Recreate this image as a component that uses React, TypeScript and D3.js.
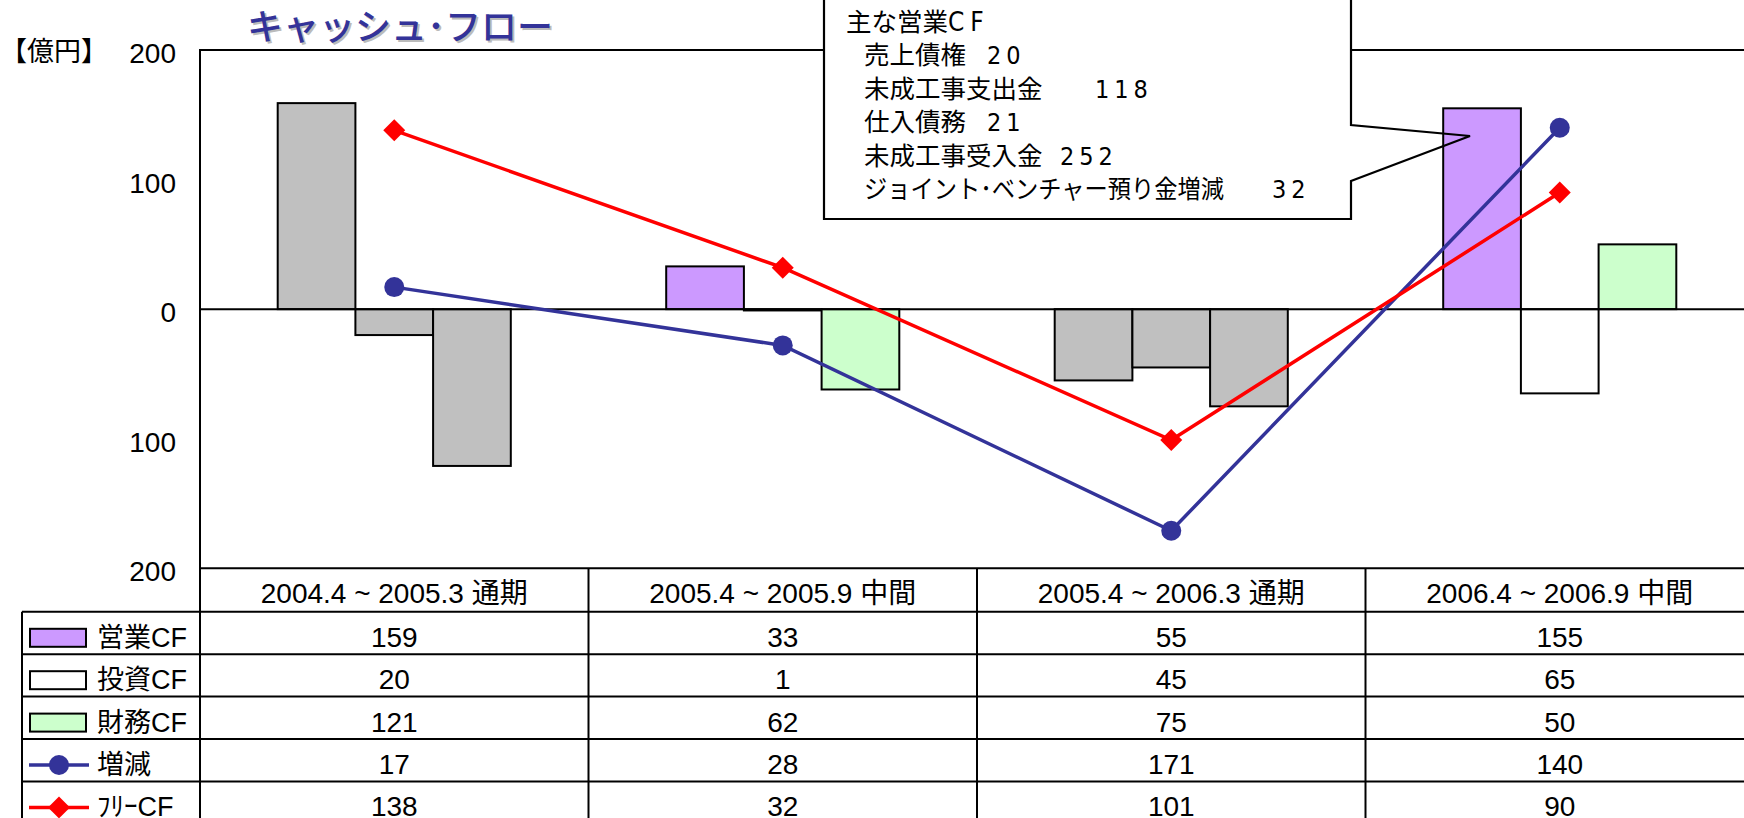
import React from "react";
import * as d3 from "d3";

// ---- data ----
const categories = [
  "2004.4 ~ 2005.3 通期",
  "2005.4 ~ 2005.9 中間",
  "2005.4 ~ 2006.3 通期",
  "2006.4 ~ 2006.9 中間",
];
const barSeries = ["営業CF", "投資CF", "財務CF"];
const operatingCF = [159, 33, -55, 155];
const investingCF = [-20, -1, -45, -65];
const financingCF = [-121, -62, -75, 50];
const netChange = [17, -28, -171, 140];
const freeCF = [138, 32, -101, 90];
const yTicks = [200, 100, 0, -100, -200];
const grayCategoryIndex = [0, 2];

const calloutTitle = "主な営業";
const calloutTitleSuffix = "CF";
const calloutLabels = [
  "売上債権",
  "未成工事支出金",
  "仕入債務",
  "未成工事受入金",
  "ジョイント･ベンチャー預り金増減",
];
const calloutValues = ["20", "118", "21", "252", "32"];

// ---- layout / style ----
const W = 1744;
const H = 818;
const plotLeft = 200;
const catW = 388.5;
const plotTop = 50;
const plotBottom = 568.3;
const legendLeft = 22;
const headerH = 43.5;
const rowH = 42.4;
const FONT = "'Liberation Sans', Arial, 'Noto Sans CJK JP', sans-serif";
const CJK = "'Noto Sans CJK JP', sans-serif";
const NARROW = "'Liberation Sans Narrow', 'DejaVu Sans Condensed', 'Liberation Sans', sans-serif";
const barColors = ["#CC99FF", "#FFFFFF", "#CCFFCC"];
const GRAY = "#C0C0C0";
const BLUE = "#333399";
const RED = "#FF0000";
const calloutValueX = [987, 1095, 987, 1060, 1272];

export default function App() {
  const x = d3
    .scaleBand<string>()
    .domain(categories)
    .range([plotLeft, plotLeft + categories.length * catW])
    .padding(0);
  const xs = d3
    .scaleBand<string>()
    .domain(barSeries)
    .range([0, x.bandwidth()])
    .paddingInner(0)
    .paddingOuter(1);
  const y = d3.scaleLinear().domain([-200, 200]).range([plotBottom, plotTop]);
  const plotRight = plotLeft + categories.length * catW;

  const seriesValues = [operatingCF, investingCF, financingCF];
  const cx = (i: number) => (x(categories[i]) as number) + x.bandwidth() / 2;
  const line = d3
    .line<number>()
    .x((_, i) => cx(i))
    .y((d) => y(d));

  const tableRows = [
    { name: "営業CF", values: operatingCF, kind: "bar", color: barColors[0] },
    { name: "投資CF", values: investingCF, kind: "bar", color: barColors[1] },
    { name: "財務CF", values: financingCF, kind: "bar", color: barColors[2] },
    { name: "増減", values: netChange, kind: "circle", color: BLUE },
    { name: "ﾌﾘｰCF", values: freeCF, kind: "diamond", color: RED },
  ];
  const rowTop = (r: number) => plotBottom + headerH + r * rowH;

  const diamond = (px: number, py: number, s: number) =>
    `M${px},${py - s}L${px + s},${py}L${px},${py + s}L${px - s},${py}Z`;

  const cy0 = 22; // first callout text line center
  const lineGap = 33.4;

  return (
    <div style={{ position: "absolute", left: 0, top: 0 }}>
      <svg width={W} height={H} style={{ display: "block", background: "#fff" }}>
        {/* title */}
        <text x={249} y={42} fontFamily={CJK} fontSize={36} fontWeight={500} fill="#BBBBBB">
          キャッシュ･フロー
        </text>
        <text x={247} y={40} fontFamily={CJK} fontSize={36} fontWeight={500} fill={BLUE}>
          キャッシュ･フロー
        </text>
        <text x={0} y={61} fontFamily={CJK} fontSize={27} fill="#000">
          【億円】
        </text>

        {/* y axis labels */}
        {yTicks.map((t) => (
          <text
            key={t}
            x={176}
            y={y(t) + 13}
            textAnchor="end"
            fontFamily={FONT}
            fontSize={28}
            fill="#000"
          >
            {Math.abs(t)}
          </text>
        ))}

        {/* bars */}
        {categories.map((c, i) =>
          barSeries.map((s, k) => {
            const v = seriesValues[k][i];
            const gray = grayCategoryIndex.includes(i);
            return (
              <rect
                key={c + s}
                x={(x(c) as number) + (xs(s) as number)}
                y={y(Math.max(0, v))}
                width={xs.bandwidth()}
                height={Math.abs(y(v) - y(0))}
                fill={gray ? GRAY : barColors[k]}
                stroke="#000"
                strokeWidth={2}
              />
            );
          })
        )}

        {/* zero line */}
        <line x1={plotLeft} x2={plotRight} y1={y(0)} y2={y(0)} stroke="#000" strokeWidth={2} />

        {/* plot frame */}
        <path
          d={`M${plotRight},${plotTop}H${plotLeft}V${plotBottom}H${plotRight}`}
          fill="none"
          stroke="#000"
          strokeWidth={2}
        />

        {/* lines */}
        <path d={line(netChange) || ""} fill="none" stroke={BLUE} strokeWidth={3.5} />
        {netChange.map((v, i) => (
          <circle key={"n" + i} cx={cx(i)} cy={y(v)} r={10} fill={BLUE} />
        ))}
        <path d={line(freeCF) || ""} fill="none" stroke={RED} strokeWidth={3.5} />
        {freeCF.map((v, i) => (
          <path key={"f" + i} d={diamond(cx(i), y(v), 11)} fill={RED} />
        ))}

        {/* callout */}
        <rect x={824} y={-10} width={527} height={229} fill="#fff" />
        <path
          d="M824,-10V219H1351V181L1470,136L1351,125V-10"
          fill="none"
          stroke="#000"
          strokeWidth={2.2}
        />
        <text x={846} y={cy0 + 9} fontFamily={CJK} fontSize={25.5} fill="#000">
          {calloutTitle}
          <tspan fontFamily={NARROW} fontSize={26} letterSpacing={6}>
            {calloutTitleSuffix}
          </tspan>
        </text>
        {calloutLabels.map((l, i) => (
          <g key={l}>
            <text
              x={864}
              y={cy0 + (i + 1) * lineGap + 9}
              fontFamily={CJK}
              fontSize={25.5}
              fill="#000"
              {...(i === 4 ? { textLength: 360, lengthAdjust: "spacingAndGlyphs" } : {})}
            >
              {l}
            </text>
            <text
              x={calloutValueX[i]}
              y={cy0 + (i + 1) * lineGap + 9}
              fontFamily={NARROW}
              fontSize={25}
              letterSpacing={5}
              fill="#000"
            >
              {calloutValues[i]}
            </text>
          </g>
        ))}

        {/* table */}
        {categories.map((c) => (
          <text
            key={"h" + c}
            x={(x(c) as number) + x.bandwidth() / 2}
            y={plotBottom + 35}
            textAnchor="middle"
            fontFamily={FONT}
            fontSize={28}
            fill="#000"
          >
            {c}
          </text>
        ))}
        {tableRows.map((row, r) => {
          const top = rowTop(r);
          const my = top + 26;
          return (
            <g key={row.name}>
              {row.kind === "bar" && (
                <rect x={30} y={my - 9} width={56} height={18} fill={row.color} stroke="#000" strokeWidth={2} />
              )}
              {row.kind !== "bar" && (
                <line x1={29} x2={89} y1={my} y2={my} stroke={row.color} strokeWidth={3.5} />
              )}
              {row.kind === "circle" && <circle cx={59} cy={my} r={10} fill={row.color} />}
              {row.kind === "diamond" && <path d={diamond(59, my, 11)} fill={row.color} />}
              <text x={97} y={top + 35} fontFamily={FONT} fontSize={27} fill="#000">
                {row.name}
              </text>
              {row.values.map((v, i) => (
                <text
                  key={i}
                  x={cx(i)}
                  y={top + 35}
                  textAnchor="middle"
                  fontFamily={FONT}
                  fontSize={28}
                  fill="#000"
                >
                  {Math.abs(v)}
                </text>
              ))}
            </g>
          );
        })}
        {/* table grid */}
        <g stroke="#000" strokeWidth={2}>
          {categories.map((c) => (
            <line key={"v" + c} x1={x(c) as number} x2={x(c) as number} y1={plotBottom} y2={H + 5} />
          ))}
          <line x1={plotRight} x2={plotRight} y1={plotBottom} y2={H + 5} />
          <line x1={legendLeft} x2={legendLeft} y1={rowTop(0)} y2={H + 5} />
          {tableRows.map((row, r) => (
            <line key={"hl" + r} x1={legendLeft} x2={plotRight} y1={rowTop(r)} y2={rowTop(r)} />
          ))}
          <line x1={legendLeft} x2={plotRight} y1={rowTop(5)} y2={rowTop(5)} />
        </g>
      </svg>
    </div>
  );
}
